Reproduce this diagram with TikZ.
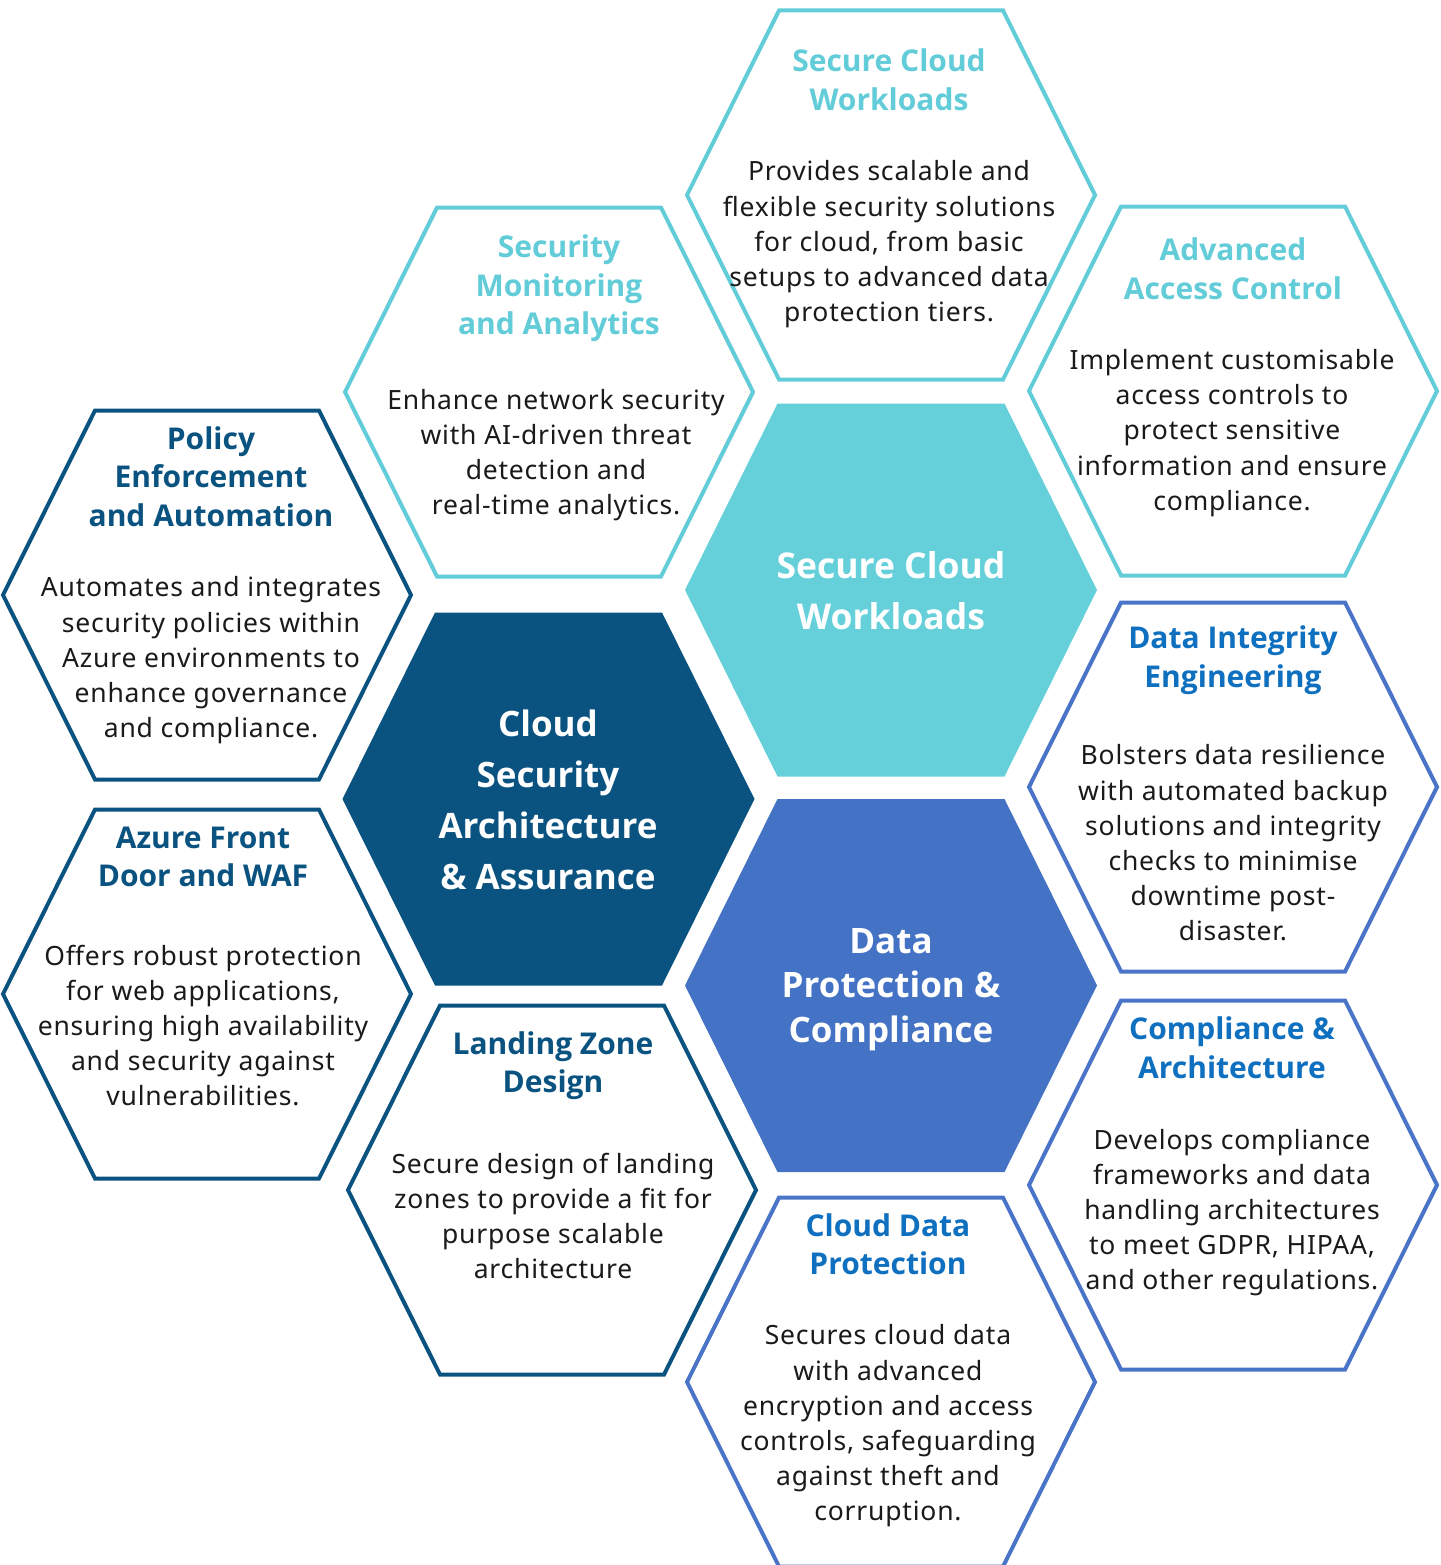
\documentclass[tikz,border=0pt]{standalone}
\usepackage{fontspec}
\setmainfont{Noto Sans}
\newfontfamily\bodyfont[LetterSpace=3]{Noto Sans}
\newfontfamily\centerfont{Open Sans}
\usetikzlibrary{calc}
\definecolor{navy}{HTML}{0A5381}
\definecolor{teal}{HTML}{65D0DA}
\definecolor{tealline}{HTML}{62CCD8}
\definecolor{royal}{HTML}{4472C4}
\definecolor{royalline}{HTML}{4A74C8}
\definecolor{royaltitle}{HTML}{0F70C0}
\definecolor{bodytext}{HTML}{1A1A1A}
\tikzset{
  hexline/.style={line width=4pt, line join=miter, fill=white},
  titletext/.style={align=center, inner sep=0pt, font=\centerfont\fontsize{30}{38.5}\selectfont\bfseries},
  bodytxt/.style={align=center, inner sep=0pt, text=bodytext, font=\bodyfont\fontsize{26.5}{35.2}\selectfont},
  centertext/.style={align=center, inner sep=0pt, text=white, font=\centerfont\fontsize{35}{51}\selectfont\bfseries},
  dpctext/.style={align=center, inner sep=0pt, text=white, font=\centerfont\fontsize{35}{44.5}\selectfont\bfseries},
}
\newcommand\hexoutline[3]{\draw[hexline,#1,shift={(#2,#3)}] (-204,0) -- (-112,-184.5) -- (112,-184.5) -- (204,0) -- (112,184.5) -- (-112,184.5) -- cycle;}
\newcommand\hexsolid[3]{\fill[#1,shift={(#2,#3)}] (-206,0) -- (-113.5,-186.5) -- (113.5,-186.5) -- (206,0) -- (113.5,186.5) -- (-113.5,186.5) -- cycle;}
\begin{document}
\begin{tikzpicture}[x=1pt,y=-1pt]
\useasboundingbox (0,0) rectangle (1440,1565);
\clip (0,0) rectangle (1440,1565);
% outline hexagons
\hexoutline{draw=tealline}{891}{195}
\hexoutline{draw=tealline}{549}{392}
\hexoutline{draw=tealline}{1233}{391}
\hexoutline{draw=navy}{207}{595}
\hexoutline{draw=navy}{207}{994}
\hexoutline{draw=navy}{552}{1190}
\hexoutline{draw=royalline}{1233}{787}
\hexoutline{draw=royalline}{1233}{1185}
\hexoutline{draw=royalline}{891}{1382}
% filled hexagons
\hexsolid{navy}{548.5}{799}
\hexsolid{teal}{891}{590}
\hexsolid{royal}{891}{985.5}
% centre texts
\node[centertext] (csa) at (548,800) {Cloud\\Security\\Architecture\\\& Assurance};
\node[centertext, font=\centerfont\fontsize{35.5}{51}\selectfont\bfseries] (scwc) at (891,590.5) {Secure Cloud\\Workloads};
\node[dpctext] (dpc) at (891,989.5) {Data\\Protection \&\\Compliance};
% Secure Cloud Workloads (top)
\node[titletext, text=tealline] (scwt) at (889,80) {Secure Cloud\\Workloads};
\node[bodytxt] (scwb) at (889,244.5) {Provides scalable and\\flexible security solutions\\for cloud, from basic\\setups to advanced data\\protection tiers.};
% Security Monitoring
\node[titletext, text=tealline] (smat) at (559,288.5) {Security\\Monitoring\\and Analytics};
\node[bodytxt] (smab) at (556,455) {Enhance network security\\with AI-driven threat\\detection and\\real-time analytics.};
% Advanced Access Control
\node[titletext, text=tealline] (aact) at (1233,268.5) {Advanced\\Access Control};
\node[bodytxt] (aacb) at (1232,433) {Implement customisable\\access controls to\\protect sensitive\\information and ensure\\compliance.};
% Policy
\node[titletext, text=navy] (polt) at (211,476.5) {Policy\\Enforcement\\and Automation};
\node[bodytxt] (polb) at (211,660.5) {Automates and integrates\\security policies within\\Azure environments to\\enhance governance\\and compliance.};
% Azure
\node[titletext, text=navy] (azt) at (203,857) {Azure Front\\Door and WAF};
\node[bodytxt] (azb) at (203,1025.5) {Offers robust protection\\for web applications,\\ensuring high availability\\and security against\\vulnerabilities.};
% Landing Zone
\node[titletext, text=navy] (lzt) at (553,1065.5) {Landing Zone\\Design};
\node[bodytxt] (lzb) at (553,1216) {Secure design of landing\\zones to provide a fit for\\purpose scalable\\architecture};
% Data Integrity
\node[titletext, text=royaltitle] (diet) at (1233,660) {Data Integrity\\Engineering};
\node[bodytxt] (dieb) at (1233,843) {Bolsters data resilience\\with automated backup\\solutions and integrity\\checks to minimise\\downtime post-\\disaster.};
% Compliance & Architecture
\node[titletext, text=royaltitle] (cat) at (1232,1047.5) {Compliance \&\\Architecture};
\node[bodytxt] (cab) at (1232,1212.5) {Develops compliance\\frameworks and data\\handling architectures\\to meet GDPR, HIPAA,\\and other regulations.};
% Cloud Data Protection
\node[titletext, text=royaltitle] (cdpt) at (888,1244) {Cloud Data\\Protection};
\node[bodytxt] (cdpb) at (888,1426) {Secures cloud data\\with advanced\\encryption and access\\controls, safeguarding\\against theft and\\corruption.};
\end{tikzpicture}
\end{document}
